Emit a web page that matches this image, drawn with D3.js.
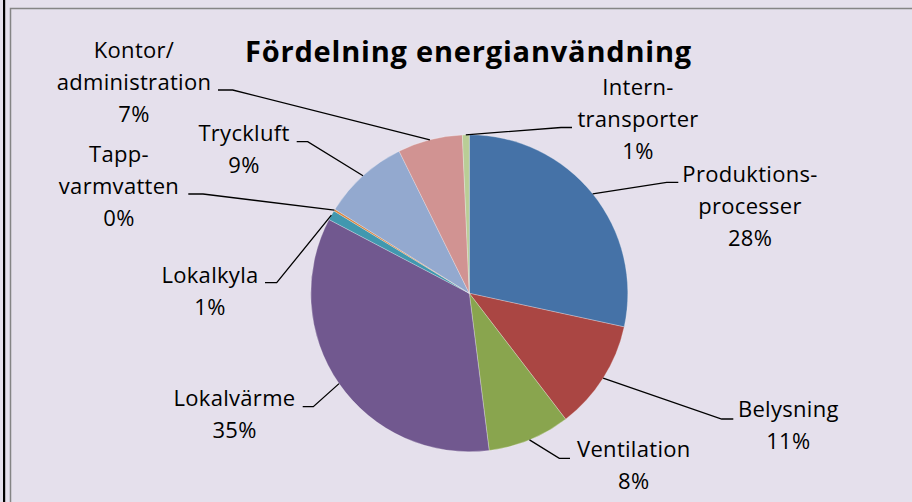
<!DOCTYPE html>
<html>
<head>
<meta charset="utf-8">
<script src="https://cdn.jsdelivr.net/npm/d3@7"></script>
<style>
  body { margin: 0; background: #e5e0ec; }
  svg { display: block; }
  text { font-family: "Open Sans", Lato, sans-serif; fill: #000; }
</style>
</head>
<body>
<svg id="chart" width="912" height="502"></svg>
<script>
// slice names (lines of each label), in clockwise order from 12 o'clock
var categories = [
    ["Produktions-", "processer"],
    ["Belysning"],
    ["Ventilation"],
    ["Lokalvärme"],
    ["Lokalkyla"],
    ["Tapp-", "varmvatten"],
    ["Tryckluft"],
    ["Kontor/", "administration"],
    ["Intern-", "transporter"]
];
// share of energy use, %
var shares = [28.4, 11.2, 8.4, 34.7, 1.0, 0.2, 8.8, 6.6, 0.7];
var colors = ["#4572a7", "#aa4643", "#89a54e", "#71588f", "#4198af",
              "#db843d", "#93a9cf", "#d19392", "#b9cd96"];

var title = "Fördelning energianvändning";

// label placement: text centre x, first baseline y, elbow of leader, end of leader
var labelLayout = [
    {x: 750, y: 181.7, elbow: [666.7, 182.3], end: [678.3, 182.3]},
    {x: 788.3, y: 417.3, elbow: [721.7, 419], end: [733.3, 419]},
    {x: 633.8, y: 457.3, elbow: [559.3, 458.3], end: [570, 458.3]},
    {x: 234.5, y: 405.7, elbow: [313.3, 406.7], end: [302.7, 406.7]},
    {x: 210, y: 282.7, elbow: [276.7, 282.7], end: [265, 282.7]},
    {x: 119, y: 161.7, elbow: [203, 194], end: [188.3, 194]},
    {x: 244, y: 140.7, elbow: [307.7, 141.7], end: [296.7, 141.7]},
    {x: 134, y: 58.3, elbow: [232.7, 90], end: [218, 90]},
    {x: 638, y: 95, elbow: [561, 127.5], end: [572, 127.5]}
];

var width = 912;
var height = 502;
var cx = 469.3, cy = 293.3, radius = 158.5;
var lineGap = 32;

let svg = d3.select("#chart");

/* background and frame */
svg.append("rect").attr("width", width).attr("height", height).attr("fill", "#e5e0ec");
svg.append("rect")
    .attr("x", 10.5).attr("y", 8.5)
    .attr("width", width + 20).attr("height", height + 20)
    .attr("fill", "none")
    .attr("stroke", "#858585")
    .attr("stroke-width", 1.5);
svg.append("rect").attr("x", 3).attr("y", 0).attr("width", 2.2).attr("height", height).attr("fill", "#000");

/* title */
svg.append("text")
    .attr("x", 468.5)
    .attr("y", 62)
    .attr("text-anchor", "middle")
    .style("font-weight", "bold")
    .style("font-size", "29px")
    .style("letter-spacing", "0.8px")
    .text(title);

let total = d3.sum(shares);
let data = shares.map(function(v, i) {
    return {value: v, lines: categories[i], color: colors[i], layout: labelLayout[i]};
});

let pie = d3.pie().sort(null).value(function(d) { return d.value; });
let arcs = pie(data);

let arc = d3.arc().innerRadius(0).outerRadius(radius);
let edge = d3.arc().innerRadius(radius).outerRadius(radius); // centroid = point on rim

let g = svg.append("g").attr("transform", "translate(" + cx + "," + cy + ")");

g.selectAll("path.slice")
    .data(arcs)
    .enter()
    .append("path")
    .attr("class", "slice")
    .attr("d", arc)
    .attr("fill", function(d) { return d.data.color; })
    .attr("stroke", "rgba(255,255,255,0.45)")
    .attr("stroke-width", 0.6);

/* leader lines */
let line = d3.line();
svg.selectAll("path.leader")
    .data(arcs)
    .enter()
    .append("path")
    .attr("class", "leader")
    .attr("d", function(d) {
        let c = edge.centroid(d);
        let L = d.data.layout;
        return line([[cx + c[0], cy + c[1]], L.elbow, L.end]);
    })
    .attr("fill", "none")
    .attr("stroke", "#000")
    .attr("stroke-width", 1.3);

/* labels */
let labels = svg.selectAll("text.label")
    .data(arcs)
    .enter()
    .append("text")
    .attr("class", "label")
    .attr("text-anchor", "middle")
    .style("font-size", "22px")
    .style("letter-spacing", "0.3px");

labels.each(function(d) {
    let t = d3.select(this);
    let L = d.data.layout;
    let lines = d.data.lines.concat([Math.round(d.data.value / total * 100) + "%"]);
    lines.forEach(function(s, k) {
        t.append("tspan").attr("x", L.x).attr("y", L.y + k * lineGap).text(s);
    });
});
</script>
</body>
</html>
